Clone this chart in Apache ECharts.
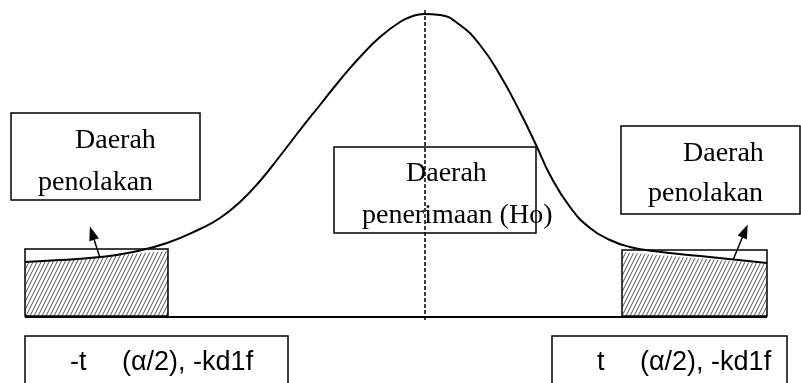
<!DOCTYPE html>
<html>
<head>
<meta charset="utf-8">
<title>Daerah penerimaan dan penolakan</title>
<script src="https://cdn.jsdelivr.net/npm/echarts@6/dist/echarts.min.js"></script>
<style>
  html, body { margin: 0; padding: 0; background: #fff; }
  #chart { width: 801px; height: 383px; }
</style>
</head>
<body>
<div id="chart"></div>
<script>
// curve: [x, height above the baseline]
const curve = [
  [25, 55], [60, 57], [100, 60], [133, 65], [167, 74], [200, 88],
  [220, 99], [240, 115], [260, 136], [280, 161], [300, 187], [320, 212],
  [340, 237], [360, 260], [380, 280], [400, 295], [413, 301], [424, 303],
  [440, 302], [460, 292], [480, 272], [500, 242], [520, 205], [537, 170],
  [550, 142], [570, 110], [590, 89], [610, 77], [630, 70], [653, 66],
  [700, 61], [767, 54]
];
// hatched tails (daerah penolakan)
const leftTail = [[25, 54], [168, 66]];
const rightTail = [[622, 65], [767, 53]];
const centre = [[425, -3], [425, 307]];
const baseline = [[25, 0], [767, 0]];
// arrows: [from, to]
const arrows = [
  [[100, 59], [92, 84]],
  [[733, 57], [745, 86]]
];
// boxes: [x1, y1, x2, y2]
const boxes = [
  [25, 1, 168, 68],
  [622, 1, 767, 67],
  [11, 117, 200, 204],
  [334, 84, 536, 170],
  [621, 103, 800, 191],
  [25, -19, 288, -90],
  [552, -19, 787, -90]
];
// texts: [x, y, text]
const serifLabels = [
  [75, 176, "Daerah"],
  [38, 134, "penolakan"],
  [406, 143, "Daerah"],
  [362, 101, "penerimaan (Ho)"],
  [683, 163, "Daerah"],
  [648, 123, "penolakan"]
];
const sansLabels = [
  [70, -46, "-t"],
  [122, -46, "(α/2), -kd1f"],
  [597, -46, "t"],
  [640, -46, "(α/2), -kd1f"]
];

function hatch() {
  const c = document.createElement("canvas");
  c.width = 4;
  c.height = 8;
  const ctx = c.getContext("2d");
  ctx.fillStyle = "#fff";
  ctx.fillRect(0, 0, 4, 8);
  ctx.strokeStyle = "#555";
  ctx.lineWidth = 1;
  for (let k = -1; k <= 1; k++) {
    ctx.beginPath();
    ctx.moveTo(k * 4, 8);
    ctx.lineTo(k * 4 + 4, 0);
    ctx.stroke();
  }
  return c;
}

function textSeries(list, family, size) {
  return {
    type: "custom",
    data: list.map((d) => [d[0], d[1]]),
    z: 5,
    renderItem(params, api) {
      const d = list[params.dataIndex];
      const p = api.coord([d[0], d[1]]);
      return {
        type: "text",
        x: p[0],
        y: p[1],
        style: {
          text: d[2],
          fontFamily: family,
          fontSize: size,
          fill: "#000",
          align: "left",
          verticalAlign: "middle",
        },
      };
    },
  };
}

const chart = echarts.init(document.getElementById("chart"));
const pattern = { image: hatch(), repeat: "repeat" };

chart.setOption({
  animation: false,
  grid: { left: 0, right: 0, top: 0, bottom: 0 },
  xAxis: { type: "value", min: 0, max: 801, show: false },
  yAxis: { type: "value", min: -66, max: 317, show: false },
  series: [
    {
      type: "line",
      data: leftTail,
      symbol: "none",
      lineStyle: { width: 0 },
      areaStyle: { color: pattern, opacity: 1 },
      z: 1,
    },
    {
      type: "line",
      data: rightTail,
      symbol: "none",
      lineStyle: { width: 0 },
      areaStyle: { color: pattern, opacity: 1 },
      z: 1,
    },
    {
      type: "line",
      data: curve,
      smooth: 0.5,
      symbol: "none",
      lineStyle: { color: "#000", width: 2 },
      z: 3,
    },
    {
      type: "line",
      data: centre,
      symbol: "none",
      lineStyle: { color: "#000", width: 1.5, type: [4, 2] },
      z: 3,
    },
    {
      type: "line",
      data: baseline,
      symbol: "none",
      lineStyle: { color: "#000", width: 2 },
      z: 3,
      markLine: {
        silent: true,
        symbol: ["none", "triangle"],
        symbolSize: [10, 14],
        label: { show: false },
        lineStyle: { color: "#000", width: 1.5, type: "solid" },
        data: arrows.map((a) => [{ coord: a[0] }, { coord: a[1] }]),
      },
    },
    {
      // kotak
      type: "custom",
      data: boxes,
      z: 4,
      renderItem(params, api) {
        const p1 = api.coord([api.value(0), api.value(1)]);
        const p2 = api.coord([api.value(2), api.value(3)]);
        return {
          type: "rect",
          shape: {
            x: Math.min(p1[0], p2[0]),
            y: Math.min(p1[1], p2[1]),
            width: Math.abs(p2[0] - p1[0]),
            height: Math.abs(p2[1] - p1[1]),
          },
          style: { fill: "none", stroke: "#000", lineWidth: 1.5 },
        };
      },
    },
    textSeries(serifLabels, "Liberation Serif", 28),
    textSeries(sansLabels, "Liberation Sans", 27),
  ],
});
window.onresize = () => chart.resize();
</script>
</body>
</html>
